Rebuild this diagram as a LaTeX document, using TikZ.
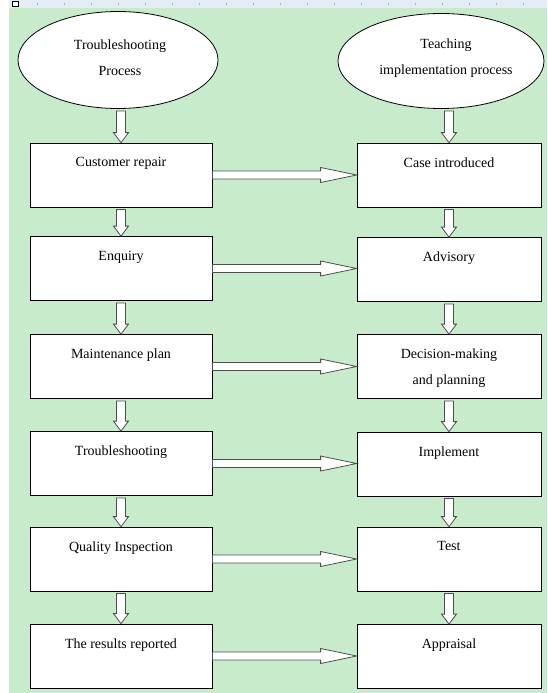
\documentclass[tikz,border=0pt]{standalone}
\usepackage{fontspec}
\setmainfont{Liberation Serif}
\usetikzlibrary{calc,shapes.geometric}
\definecolor{bggreen}{HTML}{C8ECCB}
\definecolor{stripblue}{HTML}{E4ECF6}
\definecolor{edgegray}{HTML}{4D4D4D}
\tikzset{
 box/.style={draw=black, line width=0.8pt, fill=white, minimum width=182pt, minimum height=64pt, inner sep=0pt},
 oval/.style={ellipse, draw=black, line width=0.8pt, fill=white, inner sep=0pt},
 txt/.style={font=\fontsize{14}{26}\selectfont, align=center, inner sep=0pt, anchor=north},
 blk/.style={draw=edgegray, line width=0.8pt, fill=white, line join=miter},
}
\newcommand\harr[2]{\draw[blk] let \p1=(#1.east), \p2=(#2.west) in
 (\x1,\y1+4pt) -- (\x2-36pt,\y1+4pt) -- (\x2-36pt,\y1+7.5pt) -- (\x2,\y1) --
 (\x2-36pt,\y1-7.5pt) -- (\x2-36pt,\y1-4pt) -- (\x1,\y1-4pt) -- cycle;}
\newcommand\varr[2]{\draw[blk] let \p1=(#1.south), \p2=(#2.north) in
 (\x2-4.5pt,\y1-2pt) -- (\x2-4.5pt,\y2+10pt) -- (\x2-7.5pt,\y2+10pt) -- (\x2,\y2) --
 (\x2+7.5pt,\y2+10pt) -- (\x2+4.5pt,\y2+10pt) -- (\x2+4.5pt,\y1-2pt) -- cycle;}
\begin{document}
\begin{tikzpicture}[x=1pt,y=-1pt]
\useasboundingbox (0,0) rectangle (547,693);
\fill[white] (0,0) rectangle (547,693);
\fill[stripblue] (9,0) rectangle (547,8);
\fill[bggreen] (9,8) rectangle (547,693);
\foreach \i in {0,...,19} {\draw[gray!60, line width=0.5pt] (37+\i*27,3) -- (37+\i*27,5);}
\draw[black, line width=0.8pt, fill=white] (12,1) rectangle (18,6);
% ellipses
\node[oval, minimum width=200pt, minimum height=97pt] (lo) at (118,60) {};
\node[txt, anchor=center] at (120,58) {Troubleshooting\\Process};
\node[oval, minimum width=206pt, minimum height=95pt] (ro) at (441,61) {};
\node[txt, anchor=center] at (446,58) {Teaching\\implementation process};
% left boxes
\node[box] (l1) at (121,175) {};
\node[box] (l2) at (121,268.5) {};
\node[box] (l3) at (121,366.5) {};
\node[box] (l4) at (121,463.5) {};
\node[box] (l5) at (121,559) {};
\node[box] (l6) at (121,656) {};
% right boxes
\node[box, minimum width=184pt] (r1) at (449,175) {};
\node[box, minimum width=184pt] (r2) at (449,269.5) {};
\node[box, minimum width=184pt] (r3) at (449,366.5) {};
\node[box, minimum width=184pt] (r4) at (449,464) {};
\node[box, minimum width=184pt] (r5) at (449,559) {};
\node[box, minimum width=184pt] (r6) at (449,656.5) {};
% texts
\node[txt] at ([yshift=-14.5pt]l1.north) {Customer repair};
\node[txt] at ([yshift=-14.5pt]l2.north) {Enquiry};
\node[txt] at ([yshift=-14.5pt]l3.north) {Maintenance plan};
\node[txt] at ([yshift=-14.5pt]l4.north) {Troubleshooting};
\node[txt] at ([yshift=-14.5pt]l5.north) {Quality Inspection};
\node[txt] at ([yshift=-14.5pt]l6.north) {The results reported};
\node[txt] at ([yshift=-14.5pt]r1.north) {Case introduced};
\node[txt] at ([yshift=-14.5pt]r2.north) {Advisory};
\node[txt] at ([yshift=-14.5pt]r3.north) {Decision-making\\and planning};
\node[txt] at ([yshift=-14.5pt]r4.north) {Implement};
\node[txt] at ([yshift=-14.5pt]r5.north) {Test};
\node[txt] at ([yshift=-14.5pt]r6.north) {Appraisal};
% vertical arrows
\varr{lo}{l1} \varr{l1}{l2} \varr{l2}{l3} \varr{l3}{l4} \varr{l4}{l5} \varr{l5}{l6}
\varr{ro}{r1} \varr{r1}{r2} \varr{r2}{r3} \varr{r3}{r4} \varr{r4}{r5} \varr{r5}{r6}
% horizontal arrows
\harr{l1}{r1} \harr{l2}{r2} \harr{l3}{r3} \harr{l4}{r4} \harr{l5}{r5} \harr{l6}{r6}
\end{tikzpicture}
\end{document}
